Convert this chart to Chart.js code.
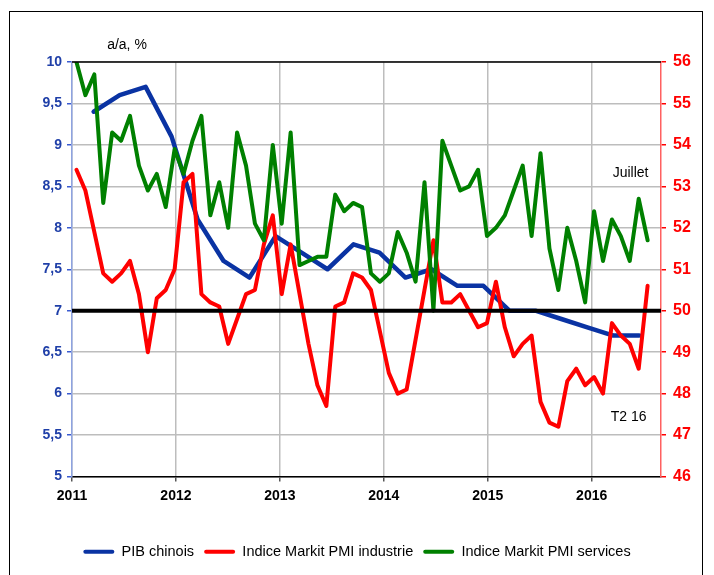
<!DOCTYPE html>
<html lang="fr">
<head>
<meta charset="UTF-8">
<title>PIB chinois et indices Markit PMI</title>
<script src="https://cdn.jsdelivr.net/npm/chart.js@4"></script>
<style>
  html, body { margin: 0; padding: 0; background: #fff; }
  #wrap { position: relative; width: 714px; height: 575px; overflow: hidden; }
  #frame { position: absolute; left: 9px; top: 11px; width: 692px; height: 600px; border: 1px solid #000; pointer-events: none; }
</style>
</head>
<body>
<div id="wrap">
  <canvas id="chart" width="714" height="575"></canvas>
  <div id="frame"></div>
</div>
<script>
// PIB chinois, a/a %, trimestriel (axe gauche)
const gdpQuarters = [
  'T1 11', 'T2 11', 'T3 11', 'T4 11', 'T1 12', 'T2 12', 'T3 12', 'T4 12',
  'T1 13', 'T2 13', 'T3 13', 'T4 13', 'T1 14', 'T2 14', 'T3 14', 'T4 14',
  'T1 15', 'T2 15', 'T3 15', 'T4 15', 'T1 16', 'T2 16'
];
const gdpGrowth = [
  9.4, 9.6, 9.7, 9.1, 8.1, 7.6, 7.4, 7.9,
  7.7, 7.5, 7.8, 7.7, 7.4, 7.5, 7.3, 7.3,
  7.0, 7.0, 6.9, 6.8, 6.7, 6.7
];

// indices PMI mensuels (axe droit), axe des mois secondaire
const pmiMonths = [
  'mars 11', 'avr. 11', 'mai 11', 'juin 11', 'juil. 11', 'août 11', 'sept. 11', 'oct. 11', 'nov. 11', 'déc. 11',
  'janv. 12', 'févr. 12', 'mars 12', 'avr. 12', 'mai 12', 'juin 12', 'juil. 12', 'août 12', 'sept. 12', 'oct. 12', 'nov. 12', 'déc. 12',
  'janv. 13', 'févr. 13', 'mars 13', 'avr. 13', 'mai 13', 'juin 13', 'juil. 13', 'août 13', 'sept. 13', 'oct. 13', 'nov. 13', 'déc. 13',
  'janv. 14', 'févr. 14', 'mars 14', 'avr. 14', 'mai 14', 'juin 14', 'juil. 14', 'août 14', 'sept. 14', 'oct. 14', 'nov. 14', 'déc. 14',
  'janv. 15', 'févr. 15', 'mars 15', 'avr. 15', 'mai 15', 'juin 15', 'juil. 15', 'août 15', 'sept. 15', 'oct. 15', 'nov. 15', 'déc. 15',
  'janv. 16', 'févr. 16', 'mars 16', 'avr. 16', 'mai 16', 'juin 16', 'juil. 16', 'août 16'
];
const pmiIndustry = [
  53.4, 52.9, 51.9, 50.9, 50.7, 50.9, 51.2, 50.4, 49.0, 50.3,
  50.5, 51.0, 53.1, 53.3, 50.4, 50.2, 50.1, 49.2, 49.8, 50.4,
  50.5, 51.6, 52.3, 50.4, 51.6, 50.4, 49.2, 48.2, 47.7, 50.1,
  50.2, 50.9, 50.8, 50.5, 49.5, 48.5, 48.0, 48.1, 49.3, 50.5,
  51.7, 50.2, 50.2, 50.4, 50.0, 49.6, 49.7, 50.7, 49.6, 48.9,
  49.2, 49.4, 47.8, 47.3, 47.2, 48.3, 48.6, 48.2, 48.4, 48.0,
  49.7, 49.4, 49.2, 48.6, 50.6
];
const pmiServices = [
  56.0, 55.2, 55.7, 52.6, 54.3, 54.1, 54.7, 53.5, 52.9, 53.3,
  52.5, 53.9, 53.3, 54.1, 54.7, 52.3, 53.1, 52.0, 54.3, 53.5,
  52.1, 51.7, 54.0, 52.1, 54.3, 51.1, 51.2, 51.3, 51.3, 52.8,
  52.4, 52.6, 52.5, 50.9, 50.7, 50.9, 51.9, 51.4, 50.7, 53.1,
  50.0, 54.1, 53.5, 52.9, 53.0, 53.4, 51.8, 52.0, 52.3, 52.9,
  53.5, 51.8, 53.8, 51.5, 50.5, 52.0, 51.2, 50.2, 52.4, 51.2,
  52.2, 51.8, 51.2, 52.7, 51.7
];

const refLevel = 7;          // ligne noire (7 % / 50)
const yearStart = 2011;
const yearEnd = 2016.667;

const FONT = '"Liberation Sans", Arial, sans-serif';
const BLUE = '#0a33a3';
const RED = '#ff0000';
const GREEN = '#008000';

// trimestre -> date (milieu du dernier mois du trimestre)
function quarterToYear(label) {
  const q = parseInt(label.charAt(1), 10);
  const y = 2000 + parseInt(label.slice(3), 10);
  return y + (3 * q - 0.5) / 12;
}
const gdpPoints = gdpQuarters.map((q, i) => ({ x: quarterToYear(q), y: gdpGrowth[i] }));

const extras = {
  id: 'extras',
  afterDatasetsDraw(chart) {
    const { ctx, chartArea, scales } = chart;
    ctx.save();
    // ligne de référence
    const yRef = scales.y.getPixelForValue(refLevel);
    ctx.strokeStyle = '#000';
    ctx.lineWidth = 4;
    ctx.beginPath();
    ctx.moveTo(chartArea.left, yRef);
    ctx.lineTo(chartArea.right, yRef);
    ctx.stroke();
    // bord haut de la zone de tracé
    ctx.lineWidth = 1.5;
    ctx.beginPath();
    ctx.moveTo(chartArea.left, chartArea.top);
    ctx.lineTo(chartArea.right, chartArea.top);
    ctx.stroke();
    // textes
    ctx.fillStyle = '#000';
    ctx.font = '14px ' + FONT;
    ctx.textAlign = 'center';
    ctx.textBaseline = 'middle';
    const xLast = scales.x2.getPixelForValue(pmiServices.length - 1);
    ctx.fillText('Juillet', xLast - 17, scales.y2.getPixelForValue(53.33));
    ctx.fillText('T2 16', xLast - 19, scales.y2.getPixelForValue(47.44));
    ctx.fillText('a/a, %', chartArea.left + 55, chartArea.top - 17);
    ctx.restore();
  }
};

new Chart(document.getElementById('chart'), {
  type: 'line',
  data: {
    datasets: [
      {
        label: 'PIB chinois',
        data: gdpPoints,
        xAxisID: 'x', yAxisID: 'y',
        borderColor: BLUE, backgroundColor: BLUE,
        borderWidth: 4.5, order: 3
      },
      {
        label: 'Indice Markit PMI industrie',
        data: pmiIndustry,
        xAxisID: 'x2', yAxisID: 'y2',
        borderColor: RED, backgroundColor: RED,
        borderWidth: 4, order: 2
      },
      {
        label: 'Indice Markit PMI services',
        data: pmiServices,
        xAxisID: 'x2', yAxisID: 'y2',
        borderColor: GREEN, backgroundColor: GREEN,
        borderWidth: 4, order: 1
      }
    ]
  },
  options: {
    responsive: false,
    devicePixelRatio: 1,
    animation: false,
    layout: { padding: { top: 62, left: 0, right: 0, bottom: 6 } },
    elements: {
      point: { radius: 0, hoverRadius: 0 },
      line: { tension: 0, borderJoinStyle: 'round', borderCapStyle: 'round' }
    },
    plugins: {
      legend: {
        position: 'bottom',
        labels: {
          font: { family: FONT, size: 14.5 },
          color: '#000',
          boxWidth: 31,
          boxHeight: 4,
          padding: 10,
          sort: (a, b) => a.datasetIndex - b.datasetIndex,
          generateLabels: chart => Chart.defaults.plugins.legend.labels.generateLabels(chart)
            .map(l => Object.assign(l, { lineWidth: 0, borderRadius: 2 }))
        }
      },
      tooltip: { enabled: false }
    },
    scales: {
      x: {
        type: 'linear',
        position: 'bottom',
        min: yearStart,
        max: yearEnd,
        afterFit: s => { s.height = 58; },
        ticks: {
          stepSize: 1,
          includeBounds: false,
          autoSkip: false,
          maxRotation: 0,
          padding: 6,
          color: '#000',
          font: { family: FONT, size: 14, weight: 'bold' },
          callback: v => String(v)
        },
        grid: { color: '#bdbdbd', lineWidth: 1.5, tickLength: 5, tickColor: '#555' },
        border: { color: '#000', width: 1.5 }
      },
      x2: {
        type: 'category',
        labels: pmiMonths,
        offset: true,
        display: false
      },
      y: {
        position: 'left',
        min: 5,
        max: 10,
        afterFit: s => { s.width = 72; },
        ticks: {
          stepSize: 0.5,
          padding: 5,
          color: '#1f3fa8',
          font: { family: FONT, size: 14, weight: 'bold' },
          callback: v => String(v).replace('.', ',')
        },
        grid: { color: '#bdbdbd', lineWidth: 1.5, tickLength: 5, tickColor: '#3a5bd0' },
        border: { color: '#8ea3e0', width: 1.5 }
      },
      y2: {
        position: 'right',
        min: 46,
        max: 56,
        afterFit: s => { s.width = 53; },
        ticks: {
          stepSize: 1,
          padding: 7,
          color: RED,
          font: { family: FONT, size: 16, weight: 'bold' }
        },
        grid: { drawOnChartArea: false, tickLength: 5, tickColor: RED, lineWidth: 1.5 },
        border: { color: '#ff6060', width: 1.5 }
      }
    }
  },
  plugins: [extras]
});
</script>
</body>
</html>
